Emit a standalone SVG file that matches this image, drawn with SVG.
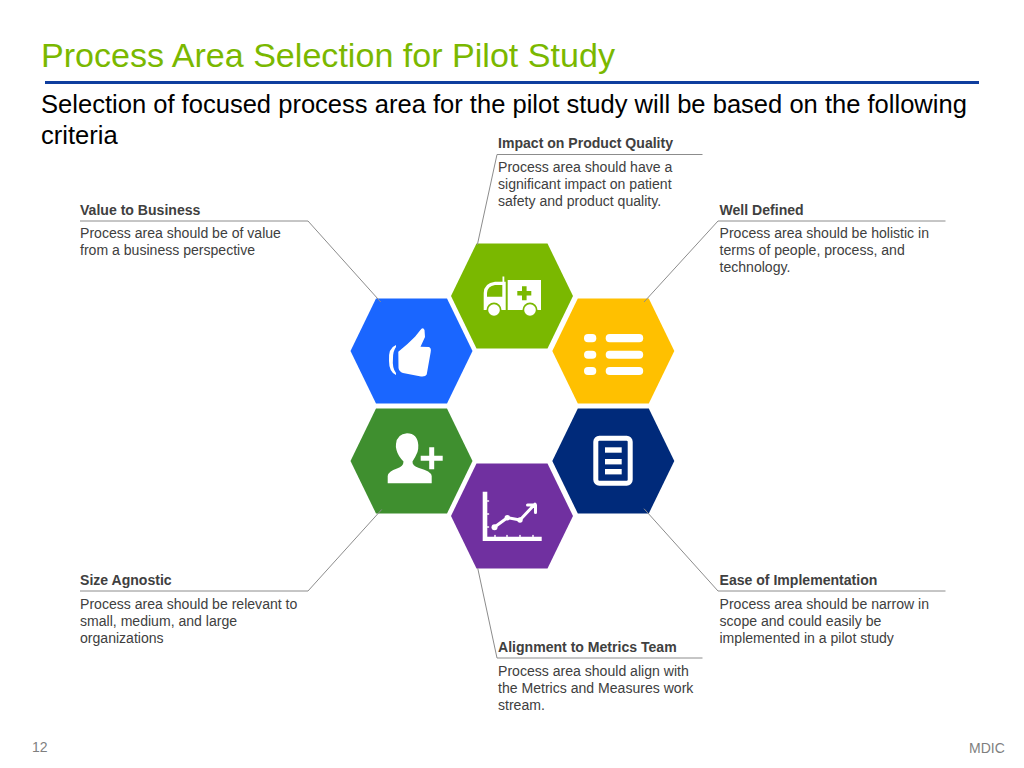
<svg xmlns="http://www.w3.org/2000/svg" width="1024" height="768" viewBox="0 0 1024 768">
<style>
text{font-family:"Liberation Sans",Arial,sans-serif}
.h{font-size:14.070px;font-weight:bold;fill:#404040}
.b{font-size:14.070px;fill:#404040}
.lead{font-size:25.550px;fill:#000}
.foot{font-size:14px;fill:#7f7f7f}
.c{fill:none;stroke:#8c8c8c;stroke-width:1}
.w{fill:#fff}
.ws{fill:none;stroke:#fff;stroke-linecap:round;stroke-linejoin:round}
</style>
<defs>
<polygon id="hex" points="-61,0 -35.5,-52.5 35.5,-52.5 61,0 35.5,52.5 -35.5,52.5"/>
</defs>
<rect width="1024" height="768" fill="#fff"/>
<text x="41" y="66.500" font-size="34.080" fill="#7ab800">Process Area Selection for Pilot Study</text>
<rect x="45" y="81" width="934" height="3" fill="#0f3e9e"/>
<text class="lead" x="41" y="113">Selection of focused process area for the pilot study will be based on the following</text>
<text class="lead" x="41" y="144">criteria</text>
<g id="node-quality">
<use href="#hex" x="512" y="296" fill="#7ab800"/>
<path class="w" d="M483.700,310V293Q484,283 495,281.700H505.700V310ZM507.700,280H541V310H507.700Z"/>
<path d="M487,296.700V293Q487.500,286 495,285H502.300V296.700Z" fill="#7ab800"/>
<circle cx="494" cy="310" r="7.500" fill="#7ab800"/><circle cx="530" cy="310" r="7.500" fill="#7ab800"/>
<circle class="w" cx="494" cy="310" r="5.800"/><circle class="w" cx="530" cy="310" r="5.800"/>
<rect class="w" x="502.500" y="276.500" width="1.800" height="6"/>
<path d="M522,286.300H526.600V291H531.300V295.600H526.600V300.300H522V295.600H517.300V291H522Z" fill="#7ab800"/>
<text class="h" x="498" y="148">Impact on Product Quality</text>
<text class="b" x="498" y="172">Process area should have a</text>
<text class="b" x="498" y="189">significant impact on patient</text>
<text class="b" x="498" y="206">safety and product quality.</text>
</g>
<g id="node-value">
<use href="#hex" x="411.500" y="351" fill="#1a66ff"/>
<path class="w" d="M396,345Q388,348 389,361Q389,372 396,375L396,373Q392,368 393,358Q393,351 396,347Z"/>
<path class="w" d="M398.300,351.700Q408,344 415,336.700L420,330.500Q423,326.500 424.500,330L425,337L420.500,346.800L429,347Q431.500,348 430.700,352L426.700,374.500Q425.500,377 421,376.500L403,373Q399,371.500 398.500,368Z"/>
<text class="h" x="80" y="214.500">Value to Business</text>
<text class="b" x="80" y="238">Process area should be of value</text>
<text class="b" x="80" y="255">from a business perspective</text>
</g>
<g id="node-defined">
<use href="#hex" x="613.300" y="351" fill="#ffc000"/>
<rect class="w" x="584" y="334" width="12.300" height="8.300" rx="4"/>
<rect class="w" x="584" y="350.700" width="12.300" height="8" rx="4"/>
<rect class="w" x="584" y="367" width="12.300" height="8" rx="4"/>
<rect class="w" x="605.700" y="334" width="37.500" height="8.300" rx="4"/>
<rect class="w" x="605.700" y="350.700" width="37.500" height="8" rx="4"/>
<rect class="w" x="605.700" y="367" width="37.500" height="8" rx="4"/>
<text class="h" x="719.500" y="214.500">Well Defined</text>
<text class="b" x="719.500" y="238">Process area should be holistic in</text>
<text class="b" x="719.500" y="255">terms of people, process, and</text>
<text class="b" x="719.500" y="272">technology.</text>
</g>
<g id="node-size">
<use href="#hex" x="411.500" y="461" fill="#3f8f2f"/>
<path class="w" d="M407,433.300Q417.500,433.500 418.300,445Q418.500,449 417.500,452Q415,458 412.500,461.500Q412,465.500 419,468Q431,471 431.700,476V483.300H387.700V476Q388.500,471 397,468.500Q403.500,466.500 403.500,461.500Q398,456 396.500,450Q395.500,447 396,444Q397,434 407,433.300Z"/>
<path class="w" d="M429.200,447.300H434.200V455.800H442.700V460.800H434.200V469.300H429.200V460.800H420.700V455.800H429.200Z"/>
<text class="h" x="80" y="585">Size Agnostic</text>
<text class="b" x="80" y="609">Process area should be relevant to</text>
<text class="b" x="80" y="626">small, medium, and large</text>
<text class="b" x="80" y="643">organizations</text>
</g>
<g id="node-ease">
<use href="#hex" x="613.300" y="461" fill="#002a7a"/>
<rect x="595.800" y="438.200" width="34.400" height="45" rx="3.500" fill="none" stroke="#fff" stroke-width="5"/>
<rect class="w" x="605" y="447.300" width="16.700" height="5.400"/>
<rect class="w" x="605" y="459" width="16.700" height="5.400"/>
<rect class="w" x="605" y="469" width="16.700" height="5.400"/>
<text class="h" x="719.500" y="585">Ease of Implementation</text>
<text class="b" x="719.500" y="609">Process area should be narrow in</text>
<text class="b" x="719.500" y="626">scope and could easily be</text>
<text class="b" x="719.500" y="643">implemented in a pilot study</text>
</g>
<g id="node-metrics">
<use href="#hex" x="512" y="516" fill="#7030a0"/>
<path class="w" d="M482.700,491.700H487.300V536.700H541.700V541H482.700Z"/>
<path class="ws" stroke-width="1.500" d="M487.500,501H488.500M487.500,514H488.500M487.500,527H488.500M495,536.500V535.500M507,536.500V535.500M520,536.500V535.500M533,536.500V535.500"/>
<path class="ws" stroke-width="3" d="M494.300,527.300L507.300,517.700L520,520L535,504M527.500,505H535.500V512.500"/>
<circle class="w" cx="494.500" cy="527.300" r="3"/><circle class="w" cx="507.300" cy="517.700" r="2.700"/><circle class="w" cx="520" cy="520" r="2.700"/>
<text class="h" x="498" y="652">Alignment to Metrics Team</text>
<text class="b" x="498" y="676">Process area should align with</text>
<text class="b" x="498" y="693">the Metrics and Measures work</text>
<text class="b" x="498" y="710">stream.</text>
</g>
<g id="connectors">
<polyline class="c" points="702.500,154.500 497,154.500 477.300,245"/>
<polyline class="c" points="80,221 308,221 380.700,302"/>
<polyline class="c" points="945.500,221 718,221 644,302"/>
<polyline class="c" points="80,591 308,591 381.700,509.500"/>
<polyline class="c" points="945.500,591 718,591 644,508.700"/>
<polyline class="c" points="702.500,658 497,658 477.700,568"/>
</g>
<text class="foot" x="32" y="752">12</text>
<text class="foot" x="969" y="753">MDIC</text>
</svg>
